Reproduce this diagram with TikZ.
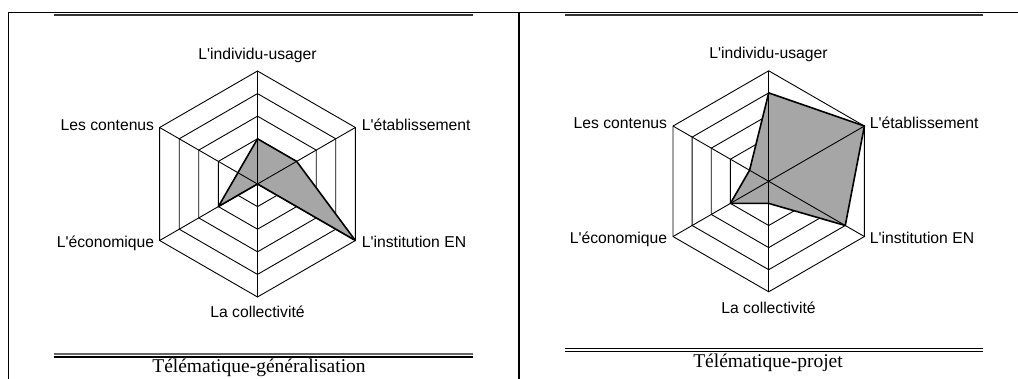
\documentclass[tikz,border=0pt]{standalone}
\usepackage{fontspec}
\setmainfont{Liberation Serif}
\newfontfamily\labfont{Liberation Sans}[Ligatures=TeXOff]
\begin{document}
\begin{tikzpicture}[x=1pt,y=-1pt,
  frameline/.style={line width=1.6pt,black},
  gridline/.style={line width=0.9pt,black},
  areafill/.style={fill=black!35},
  edgeline/.style={draw=black,line width=1.6pt,line join=round},
  lab/.style={font=\labfont\fontsize{15.7}{18}\selectfont,inner sep=0pt},
  captext/.style={font=\fontsize{19.5}{22}\selectfont,inner sep=0pt}]
\useasboundingbox (0,0) rectangle (1018,379);
% frame
\draw[frameline] (8.5,379) -- (8.5,12.5) -- (1018,12.5);
\draw[frameline] (519,12.5) -- (519,379);
\draw[line width=1.4pt,black!80] (54,14.9) -- (473,14.9);
\draw[line width=1.4pt,black!80] (565,14.9) -- (983,14.9);
\draw[line width=1.1pt,black!60] (54,354) -- (473,354);
\draw[line width=1.7pt,black] (54,357) -- (473,357);
\draw[line width=1.3pt,black] (565,348.7) -- (983,348.7);
\draw[line width=1.7pt,black] (565,351.6) -- (983,351.6);
% left radar
\begin{scope}[shift={(257.5,184)}]
\def\s{22.6}
\foreach \i in {1,...,5}
  \draw[gridline] (-90:\i*\s) -- (-30:\i*\s) -- (30:\i*\s) -- (90:\i*\s) -- (150:\i*\s) -- (210:\i*\s) -- cycle;
\fill[areafill] (-90:2*\s) -- (-30:2*\s) -- (30:5*\s) -- (0,0) -- (150:2*\s) -- cycle;
\foreach \a in {-90,-30,...,210}
  \draw[gridline] (0,0) -- (\a:5*\s);
\draw[edgeline] (-90:2*\s) -- (-30:2*\s) -- (30:5*\s) -- (0,0) -- (150:2*\s) -- cycle;
\end{scope}
% right radar
\begin{scope}[shift={(768.7,181.3)}]
\def\s{22.1}
\foreach \i in {1,...,5}
  \draw[gridline] (-90:\i*\s) -- (-30:\i*\s) -- (30:\i*\s) -- (90:\i*\s) -- (150:\i*\s) -- (210:\i*\s) -- cycle;
\fill[areafill] (-90:4*\s) -- (-30:5*\s) -- (30:4*\s) -- (90:1*\s) -- (150:2*\s) -- (210:1*\s) -- cycle;
\foreach \a in {-90,-30,...,210}
  \draw[gridline] (0,0) -- (\a:5*\s);
\draw[edgeline] (-90:4*\s) -- (-30:5*\s) -- (30:4*\s) -- (90:1*\s) -- (150:2*\s) -- (210:1*\s) -- cycle;
\end{scope}
% left labels
\node[lab,anchor=base] (la) at (257.5,59.5) {L'individu-usager};
\node[lab,anchor=base west] (lb) at (361.7,130.7) {L'établissement};
\node[lab,anchor=base west] (lc) at (361.7,247.3) {L'institution EN};
\node[lab,anchor=base] (ld) at (257.5,318) {La collectivité};
\node[lab,anchor=base east] (le) at (154.3,247.3) {L'économique};
\node[lab,anchor=base east] (lf) at (154.3,130.7) {Les contenus};
% right labels
\node[lab,anchor=base] (ra) at (768.5,58.3) {L'individu-usager};
\node[lab,anchor=base west] (rb) at (869.7,128.3) {L'établissement};
\node[lab,anchor=base west] (rc) at (869.7,243.3) {L'institution EN};
\node[lab,anchor=base] (rd) at (768.5,313.3) {La collectivité};
\node[lab,anchor=base east] (re) at (667.3,243.3) {L'économique};
\node[lab,anchor=base east] (rf) at (667.3,128.3) {Les contenus};
% captions
\node[captext,anchor=base] (c1) at (259,373) {Télématique-généralisation};
\node[captext,anchor=base] (c2) at (768,368) {Télématique-projet};
\end{tikzpicture}
\end{document}
